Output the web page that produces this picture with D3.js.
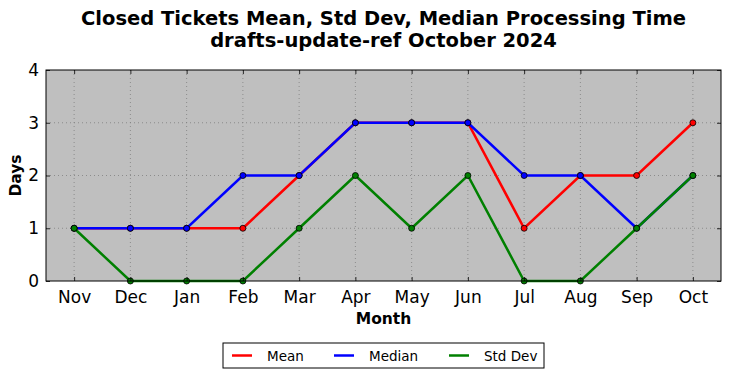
<!DOCTYPE html>
<html>
<head>
<meta charset="utf-8">
<script src="https://cdn.jsdelivr.net/npm/d3@7"></script>
<style>
  body { margin: 0; background: #fff; }
  svg { display: block; font-family: "DejaVu Sans", sans-serif; }
</style>
</head>
<body>
<div id="chart"></div>
<script>
const months = ['Nov', 'Dec', 'Jan', 'Feb', 'Mar', 'Apr', 'May', 'Jun', 'Jul', 'Aug', 'Sep', 'Oct']
const meanVals = [1, 1, 1, 1, 2, 3, 3, 3, 1, 2, 2, 3]
const medianVals = [1, 1, 1, 2, 2, 3, 3, 3, 2, 2, 1, 2]
const stdVals = [1, 0, 0, 0, 1, 2, 1, 2, 0, 0, 1, 2]
const yTicks = [0, 1, 2, 3, 4]

const series = [
    { name: 'Mean', color: '#ff0000', values: meanVals },
    { name: 'Median', color: '#0000ff', values: medianVals },
    { name: 'Std Dev', color: '#008000', values: stdVals }
]

const width = 731
const height = 378
const margin = { top: 70, right: 10, bottom: 97, left: 46 }

const svg = d3.select('#chart')
    .append('svg')
    .attr('width', width)
    .attr('height', height)

const x = d3.scalePoint()
    .domain(months)
    .range([margin.left, width - margin.right])
    .padding(0.5)

const y = d3.scaleLinear()
    .domain([0, 4])
    .range([height - margin.bottom, margin.top])

// plot background
svg.append('rect')
    .attr('x', margin.left)
    .attr('y', margin.top)
    .attr('width', width - margin.left - margin.right)
    .attr('height', height - margin.top - margin.bottom)
    .attr('fill', '#bfbfbf')

// grid
const grid = svg.append('g')
grid.selectAll('.gx')
    .data(months)
    .join('line')
    .attr('x1', d => x(d)).attr('x2', d => x(d))
    .attr('y1', margin.top).attr('y2', height - margin.bottom)
grid.selectAll('.gy')
    .data(yTicks.slice(1, -1))
    .join('line')
    .attr('x1', margin.left).attr('x2', width - margin.right)
    .attr('y1', d => y(d)).attr('y2', d => y(d))
grid.selectAll('line')
    .attr('stroke', '#7f7f7f')
    .attr('stroke-width', 0.8)
    .attr('stroke-dasharray', '1,3')

// lines
const line = d3.line()
    .x((d, i) => x(months[i]))
    .y(d => y(d))

series.forEach(s => {
    svg.append('path')
        .datum(s.values)
        .attr('d', line)
        .attr('fill', 'none')
        .attr('stroke', s.color)
        .attr('stroke-width', 2.5)
})
series.forEach(s => {
    svg.append('g')
        .selectAll('circle')
        .data(s.values)
        .join('circle')
        .attr('cx', (d, i) => x(months[i]))
        .attr('cy', d => y(d))
        .attr('r', 3)
        .attr('fill', s.color)
        .attr('stroke', '#000')
        .attr('stroke-width', 0.8)
})

// axes (ticks inside, all four sides)
function xAxis(g) {
    g.attr('transform', `translate(0,${height - margin.bottom})`)
        .call(d3.axisBottom(x).tickSizeInner(-4).tickSizeOuter(0).tickPadding(10))
}
function xAxisTop(g) {
    g.attr('transform', `translate(0,${margin.top})`)
        .call(d3.axisTop(x).tickSizeInner(-4).tickSizeOuter(0).tickFormat(''))
}
function yAxis(g) {
    g.attr('transform', `translate(${margin.left},0)`)
        .call(d3.axisLeft(y).tickValues(yTicks).tickFormat(d3.format('d')).tickSizeInner(-4).tickSizeOuter(0).tickPadding(7))
}
function yAxisRight(g) {
    g.attr('transform', `translate(${width - margin.right},0)`)
        .call(d3.axisRight(y).tickValues(yTicks).tickSizeInner(-4).tickSizeOuter(0).tickFormat(''))
}
;[xAxis, xAxisTop, yAxis, yAxisRight].forEach(fn => {
    const g = svg.append('g').call(fn)
    g.select('.domain').remove()
    g.selectAll('.tick line').attr('stroke', '#000').attr('stroke-width', 0.8)
    g.selectAll('.tick text')
        .attr('fill', '#000')
        .attr('font-size', '17px')
        .attr('font-family', '"DejaVu Sans", sans-serif')
})

// frame
svg.append('rect')
    .attr('x', margin.left)
    .attr('y', margin.top)
    .attr('width', width - margin.left - margin.right)
    .attr('height', height - margin.top - margin.bottom)
    .attr('fill', 'none')
    .attr('stroke', '#000')
    .attr('stroke-width', 1)

// titles
const cx = (margin.left + width - margin.right) / 2
svg.append('text')
    .attr('x', cx).attr('y', 25)
    .attr('text-anchor', 'middle')
    .attr('font-size', '19.5px').attr('font-weight', 'bold')
    .text('Closed Tickets Mean, Std Dev, Median Processing Time')
svg.append('text')
    .attr('x', cx).attr('y', 47)
    .attr('text-anchor', 'middle')
    .attr('font-size', '19.5px').attr('font-weight', 'bold')
    .text('drafts-update-ref October 2024')

svg.append('text')
    .attr('x', cx).attr('y', 324)
    .attr('text-anchor', 'middle')
    .attr('font-size', '15.5px').attr('font-weight', 'bold')
    .text('Month')

svg.append('text')
    .attr('transform', `translate(21,${(margin.top + height - margin.bottom) / 2}) rotate(-90)`)
    .attr('text-anchor', 'middle')
    .attr('font-size', '15.5px').attr('font-weight', 'bold')
    .text('Days')

// legend
const legend = svg.append('g').attr('transform', 'translate(223,343)')
legend.append('rect')
    .attr('width', 321).attr('height', 25)
    .attr('fill', '#fff').attr('stroke', '#000').attr('stroke-width', 1)
const legendX = [9, 111, 226]
series.forEach((s, i) => {
    legend.append('line')
        .attr('x1', legendX[i]).attr('x2', legendX[i] + 20)
        .attr('y1', 12.5).attr('y2', 12.5)
        .attr('stroke', s.color).attr('stroke-width', 2.5)
    legend.append('text')
        .attr('x', legendX[i] + 35).attr('y', 17.5)
        .attr('font-size', '13.5px')
        .text(s.name)
})
</script>
</body>
</html>
